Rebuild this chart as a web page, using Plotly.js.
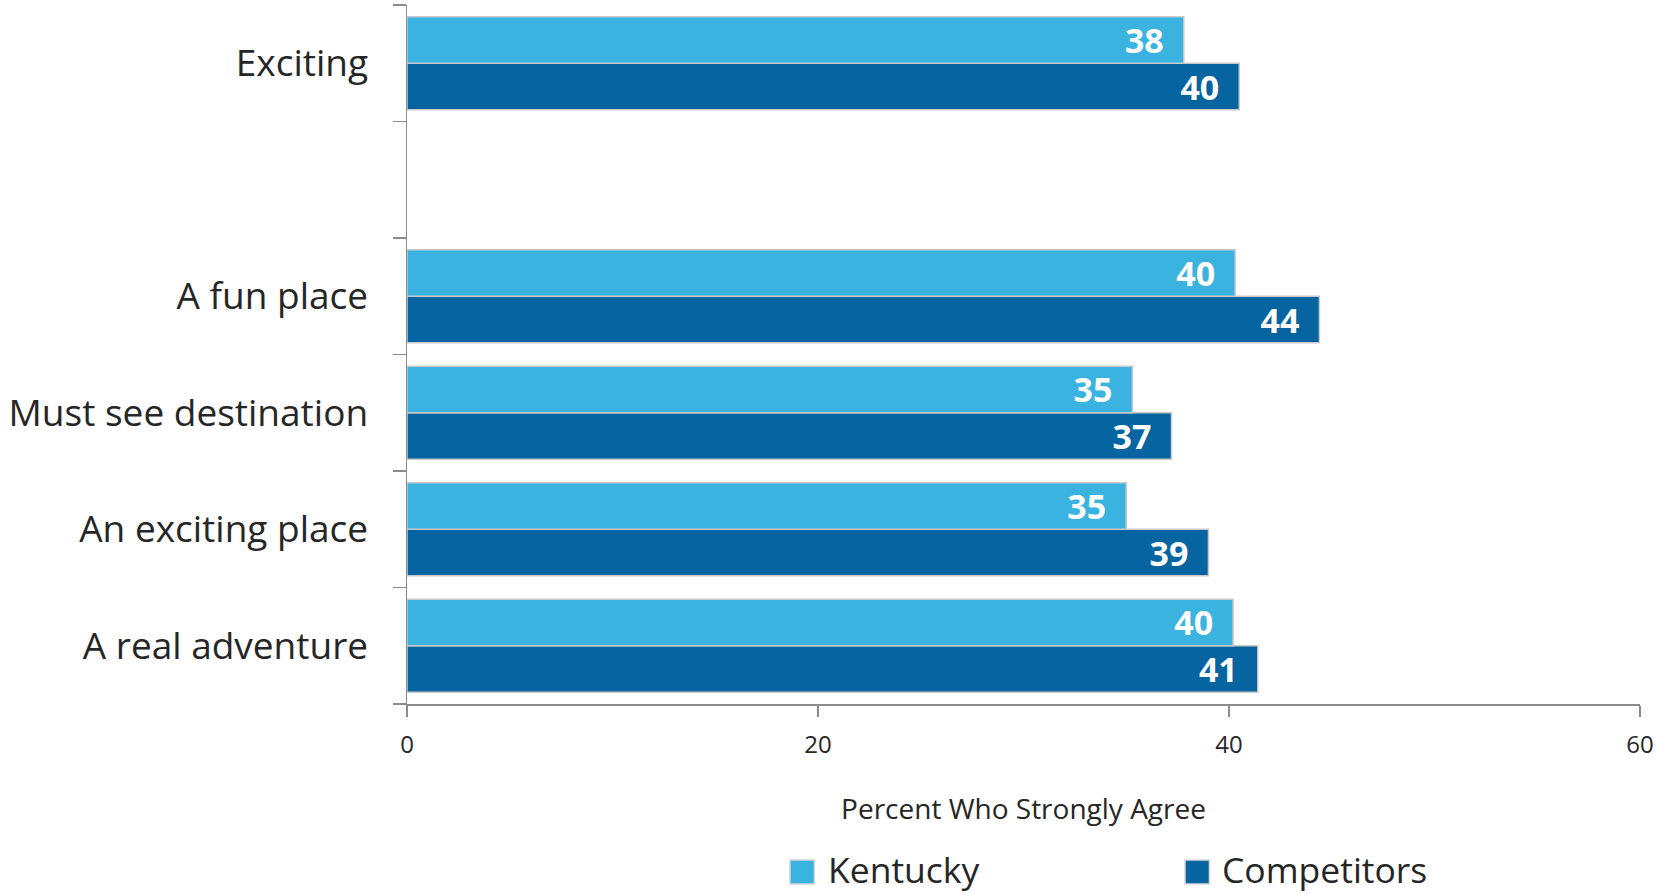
<!DOCTYPE html>
<html>
<head>
<meta charset="utf-8">
<script src="https://cdn.plot.ly/plotly-3.0.1.min.js"></script>
<style>html,body{margin:0;padding:0;background:#fff;}#chart{width:1659px;height:894px;}</style>
</head>
<body>
<div id="chart"></div>
<script>
// Categories, bottom to top (blank slot between "A fun place" and "Exciting")
const categories = ["A real adventure", "An exciting place", "Must see destination", "A fun place", " ", "Exciting"];
const kentuckyValues = [40.2, 35.0, 35.3, 40.3, null, 37.8];
const competitorValues = [41.4, 39.0, 37.2, 44.4, null, 40.5];
const kentuckyLabels = ["40", "35", "35", "40", "", "38"];
const competitorLabels = ["41", "39", "37", "44", "", "40"];
const seriesNames = ["Kentucky", "Competitors"];
const seriesColors = ["#3AB3E0", "#0664A1"];
const xTickValues = [0, 20, 40, 60];
const xTickLabels = ["0", "20", "40", "60"];

const FONT = "'Open Sans', Lato, sans-serif";
const barText = {family: FONT, size: 34, color: "#ffffff", weight: 700};

function barTrace(name, values, labels, color) {
  return {
    type: "bar", orientation: "h", name: name,
    y: categories, x: values, text: labels,
    texttemplate: "%{text}\u2002", textposition: "inside", insidetextanchor: "end",
    textangle: 0, constraintext: "none", textfont: barText,
    marker: {color: color, line: {color: "#c9c9c9", width: 1.5}},
    hoverinfo: "x+name", showlegend: false
  };
}
// Competitors first so that Kentucky sits on top within each group
const traces = [
  barTrace(seriesNames[1], competitorValues, competitorLabels, seriesColors[1]),
  barTrace(seriesNames[0], kentuckyValues, kentuckyLabels, seriesColors[0])
];

// Custom legend (squares + text) below the axis title
const legendSquareX = [0.3106, 0.631];
const legendTextX = [0.3398, 0.6594];
const shapes = seriesNames.map((n, i) => ({
  type: "rect", xref: "paper", yref: "paper",
  x0: legendSquareX[i], x1: legendSquareX[i] + 0.0198, y0: -0.2575, y1: -0.2232,
  fillcolor: seriesColors[i], line: {color: "#d6d6d6", width: 1.5}
}));
const annotations = seriesNames.map((n, i) => ({
  xref: "paper", yref: "paper", x: legendTextX[i], y: -0.2365,
  xanchor: "left", yanchor: "middle", showarrow: false, text: n,
  font: {family: FONT, size: 35.5, color: "#262626"}
}));

const layout = {
  width: 1659, height: 894,
  margin: {l: 407, r: 19, t: 5, b: 190},
  paper_bgcolor: "#ffffff", plot_bgcolor: "#ffffff",
  barmode: "group", bargap: 0.2, bargroupgap: 0,
  font: {family: FONT, color: "#262626"},
  showlegend: false,
  shapes: shapes, annotations: annotations,
  xaxis: {
    range: [0, 60], tickvals: xTickValues, ticktext: xTickLabels,
    showgrid: false, zeroline: false, automargin: false,
    showline: true, linecolor: "#8c8c8c", linewidth: 1.5,
    ticks: "outside", ticklen: 11, tickcolor: "#8c8c8c", tickwidth: 1.5,
    tickfont: {family: FONT, size: 24, color: "#262626"},
    ticklabelstandoff: 8,
    title: {text: "Percent Who Strongly Agree", font: {family: FONT, size: 28, color: "#262626"}, standoff: 40},
    fixedrange: true
  },
  yaxis: {
    type: "category", categoryorder: "array", categoryarray: categories,
    showgrid: false, zeroline: false, automargin: false,
    showline: true, linecolor: "#8c8c8c", linewidth: 1.5,
    ticks: "outside", tickson: "boundaries", ticklen: 13, tickcolor: "#8c8c8c", tickwidth: 1.5,
    tickfont: {family: FONT, size: 37, color: "#262626"},
    ticklabelstandoff: 30,
    fixedrange: true
  }
};

Plotly.newPlot("chart", traces, layout, {displayModeBar: false, staticPlot: true});
</script>
</body>
</html>
